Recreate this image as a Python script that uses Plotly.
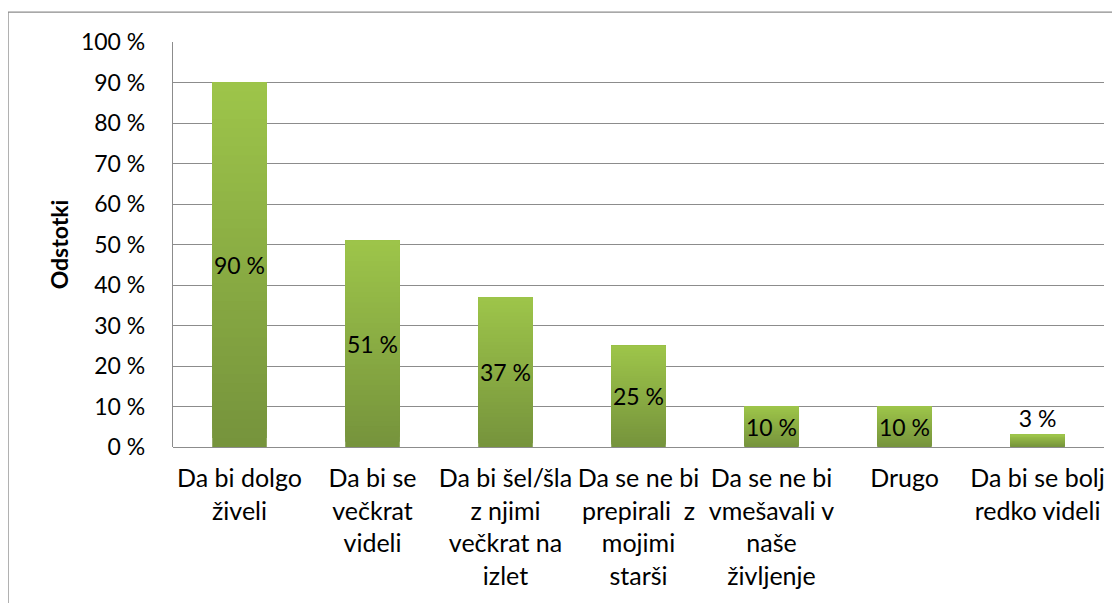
import plotly.graph_objects as go

categories = [
    "Da bi dolgo<br>živeli",
    "Da bi se<br>večkrat<br>videli",
    "Da bi šel/šla<br>z njimi<br>večkrat na<br>izlet",
    "Da se ne bi<br>prepirali  z<br>mojimi<br>starši",
    "Da se ne bi<br>vmešavali v<br>naše<br>življenje",
    "Drugo",
    "Da bi se bolj<br>redko videli",
]
values = [90, 51, 37, 25, 10, 10, 3]
tick_values = [0, 10, 20, 30, 40, 50, 60, 70, 80, 90, 100]
tick_labels = ["0 %", "10 %", "20 %", "30 %", "40 %", "50 %", "60 %", "70 %", "80 %", "90 %", "100 %"]

FONT = "Lato"
FS = 23
FS_CAT = 25
TOP = (157, 197, 74)
BOTTOM = (118, 147, 60)
N = 40
BAR_W = 0.41

fig = go.Figure()

# gradient fill: overlapping layers, each starting higher and lighter, all ending at the bar top
for i in range(N):
    t = (i + 0.5) / N
    c = tuple(round(BOTTOM[k] + (TOP[k] - BOTTOM[k]) * t) for k in range(3))
    fig.add_trace(go.Bar(
        x=categories,
        y=[v * (N - i) / N for v in values],
        base=[v * i / N for v in values],
        width=BAR_W,
        marker=dict(color="rgb(%d,%d,%d)" % c, line=dict(width=0)),
        hoverinfo="skip",
        showlegend=False,
    ))

# transparent full bar carrying the data labels
positions = ["outside" if v < 5 else "inside" for v in values]
fig.add_trace(go.Bar(
    x=categories,
    y=values,
    width=BAR_W,
    marker=dict(color="rgba(0,0,0,0)", line=dict(width=0)),
    text=["%d %%" % v for v in values],
    textposition=positions,
    textangle=0,
    insidetextanchor="middle",
    constraintext="none",
    textfont=dict(family=FONT, size=FS, color="#000000"),
    cliponaxis=False,
    showlegend=False,
))

fig.update_layout(
    barmode="overlay",
    width=1112,
    height=595,
    margin=dict(l=165, r=16, t=34, b=156, autoexpand=False),
    paper_bgcolor="white",
    plot_bgcolor="white",
    font=dict(family=FONT, size=FS, color="#000000"),
    xaxis=dict(
        automargin=False,
        showgrid=False,
        showline=False,
        ticks="",
        ticklabelstandoff=14,
        tickfont=dict(family=FONT, size=FS_CAT, color="#000000"),
        tickangle=0,
    ),
    yaxis=dict(
        automargin=False,
        range=[0, 100],
        tickvals=tick_values,
        ticktext=tick_labels,
        ticklabelstandoff=22,
        showgrid=True,
        gridcolor="#8c8c8c",
        gridwidth=1.3,
        showline=True,
        linecolor="#8c8c8c",
        linewidth=1.3,
        zeroline=True,
        zerolinecolor="#8c8c8c",
        zerolinewidth=1.3,
        ticks="",
        tickfont=dict(family=FONT, size=FS, color="#000000"),
        title=dict(text="<b>Odstotki</b>", font=dict(family=FONT, size=FS, color="#000000"), standoff=5),
    ),
    shapes=[dict(
        type="rect", xref="paper", yref="paper",
        x0=-0.1772, x1=1.2, y0=-0.6, y1=1.074,
        line=dict(color="#8c8c8c", width=1.3),
        fillcolor="rgba(0,0,0,0)", layer="below",
    )],
)

fig.write_html("out.html")
